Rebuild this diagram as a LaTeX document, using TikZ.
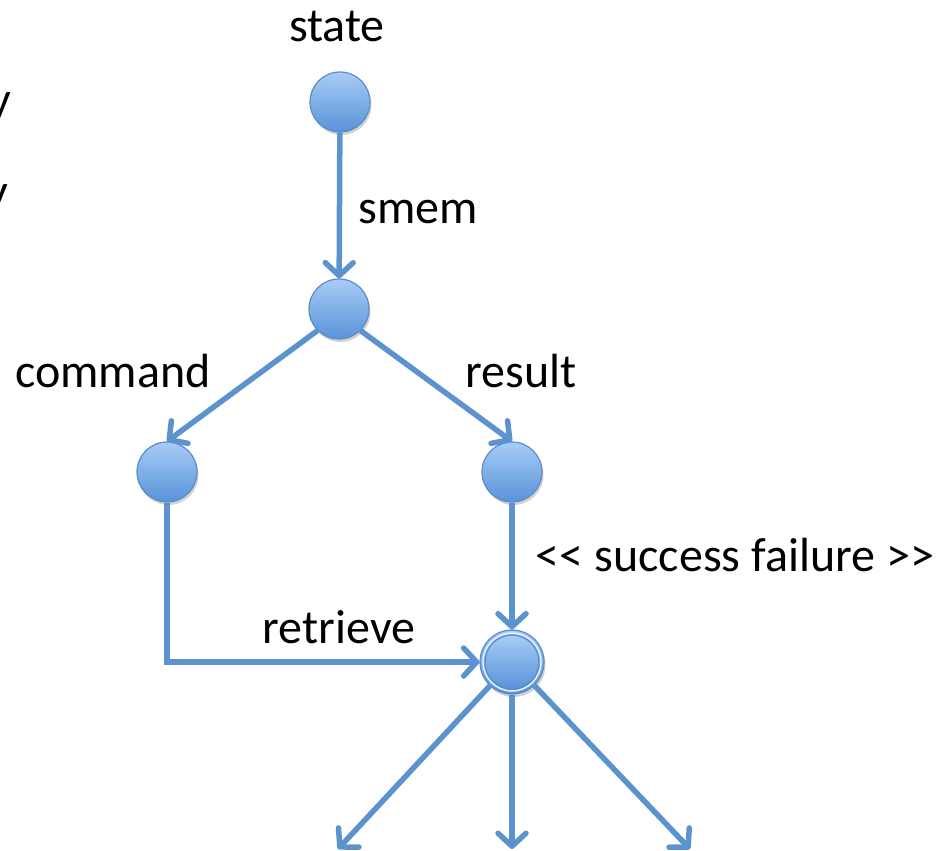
\documentclass[tikz,border=0pt]{standalone}
\usepackage{fontspec}
\setmainfont{Carlito}
\usetikzlibrary{arrows.meta,shadows}
\definecolor{edgeblue}{RGB}{92,147,206}
\definecolor{rimblue}{RGB}{88,140,203}
\definecolor{topblue}{RGB}{168,204,247}
\definecolor{botblue}{RGB}{88,147,216}
\tikzset{
  state node/.style={circle, minimum size=60pt, inner sep=0pt, draw=rimblue, line width=1.2pt,
    top color=topblue, bottom color=botblue,
    drop shadow={shadow xshift=1.5pt, shadow yshift=-3pt, opacity=0.25, fill=black!70}},
  final node/.style={state node, minimum size=64pt},
  inner ring/.style={circle, minimum size=54pt, inner sep=0pt, draw=rimblue, line width=1.2pt,
    top color=topblue, bottom color=botblue},
  link/.style={draw=edgeblue, line width=5.5pt,
    -{Straight Barb[length=13pt, width=28pt, line width=5.5pt, round]}},
  label text/.style={inner sep=0pt, anchor=base, text=black},
}
\begin{document}
\begin{tikzpicture}[x=1pt, y=-1pt, font=\fontsize{48}{58}\selectfont]
\useasboundingbox (0,0) rectangle (951,851);

% partly hidden text at the left margin
\node[inner sep=0pt, anchor=base east] (frag1) at (11,115) {y};
\node[inner sep=0pt, anchor=base east] (frag2) at (8,207) {y};

% states
\node[state node] (root) at (340,102) {};
\node[state node] (smem) at (339,309) {};
\node[state node] (cmd) at (167,472) {};
\node[state node] (res) at (512,472) {};
\node[final node] (ret) at (512,662) {};
\node[inner ring] (retin) at (ret.center) {};
\draw[white!70!topblue, line width=1.5pt] (ret.center) circle (29pt);

% loose ends of the outgoing links
\coordinate (outL) at (338,849);
\coordinate (outM) at (512,849);
\coordinate (outR) at (690,849);

% links
\draw[link] (root) -- (smem);
\draw[link] (smem.225) -- (cmd.north);
\draw[link] (smem.315) -- (res.north);
\draw[link] (res) -- (ret);
\draw[link] (cmd.south) |- (ret.west);
\draw[link] (ret) -- (outL);
\draw[link] (ret) -- (outM);
\draw[link] (ret) -- (outR);

% labels
\node[label text] (lstate) at (337,42) {state};
\node[label text] (lsmem) at (418,223) {smem};
\node[label text] (lcmd) at (113,387) {command};
\node[label text] (lres) at (521,387) {result};
\node[label text] (lsf) at (735,571) {<\kern0pt< success failure >\kern0pt>};
\node[label text] (lret) at (339,643) {retrieve};
\end{tikzpicture}
\end{document}
